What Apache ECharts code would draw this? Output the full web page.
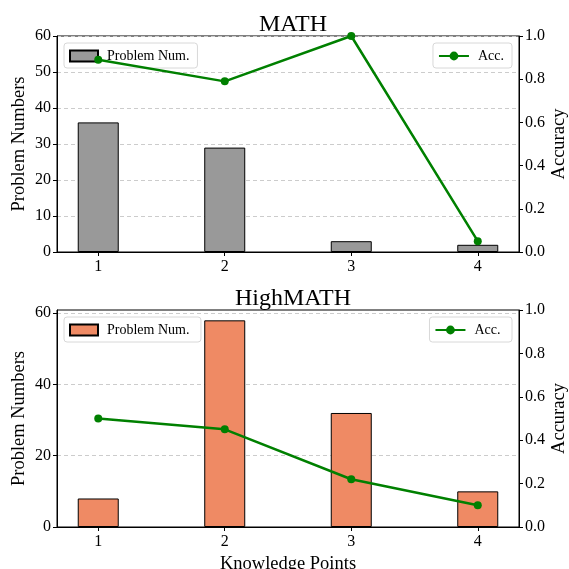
<!DOCTYPE html>
<html>
<head>
<meta charset="utf-8">
<script src="https://cdn.jsdelivr.net/npm/echarts@6/dist/echarts.min.js"></script>
<style>html,body{margin:0;padding:0;background:#fff}#c{width:569px;height:569px}</style>
</head>
<body>
<div id="c"></div>
<script>
var knowledgePoints = [1, 2, 3, 4];
var mathCounts = [36, 29, 3, 2];
var mathAcc = [0.89, 0.79, 1.0, 0.05];
var highCounts = [8, 58, 32, 10];
var highAcc = [0.5, 0.45, 0.22, 0.1];
var leftTicksTop = [0, 10, 20, 30, 40, 50, 60];
var leftTicksBottom = [0, 20, 40, 60];

var FONT = 'Liberation Serif';
function pairs(xs, ys) { return xs.map(function (x, i) { return [x, ys[i]]; }); }

var chart = echarts.init(document.getElementById('c'), null, {renderer: 'canvas'});
var grids = [
  {left: 57, right: 50, top: 36, height: 216, show: true, borderColor: '#000', borderWidth: 1,
    backgroundColor: 'transparent', outerBoundsMode: 'none', containLabel: false},
  {left: 57, right: 50, top: 310, height: 217, show: true, borderColor: '#000', borderWidth: 1,
    backgroundColor: 'transparent', outerBoundsMode: 'none', containLabel: false}
];
function xAxis(gi, withName) {
  return {
    type: 'value', gridIndex: gi, min: 0.674, max: 4.326,
    name: withName ? 'Knowledge Points' : '', nameLocation: 'middle', nameGap: 28, nameMoveOverlap: false,
    nameTextStyle: {fontFamily: FONT, fontSize: 18.5, color: '#000'},
    axisLine: {show: true, lineStyle: {color: '#000', width: 1}},
    axisTick: {show: true, customValues: knowledgePoints, length: 4, lineStyle: {color: '#000'}},
    axisLabel: {customValues: knowledgePoints, fontFamily: FONT, fontSize: 16, color: '#000', margin: 7},
    splitLine: {show: false}
  };
}
function leftY(gi, max, ticks) {
  return {
    type: 'value', gridIndex: gi, position: 'left', min: 0, max: max,
    name: 'Problem Numbers', nameLocation: 'middle', nameGap: 28, nameMoveOverlap: false,
    nameTextStyle: {fontFamily: FONT, fontSize: 18.5, color: '#000'},
    axisLine: {show: true, lineStyle: {color: '#000'}},
    axisTick: {show: true, customValues: ticks, length: 4, lineStyle: {color: '#000'}},
    axisLabel: {customValues: ticks, fontFamily: FONT, fontSize: 16, color: '#000', margin: 6},
    splitLine: {show: true, lineStyle: {color: '#cccccc', type: [4, 3], width: 1}}
  };
}
function rightY(gi) {
  return {
    type: 'value', gridIndex: gi, position: 'right', min: 0, max: 1, interval: 0.2,
    name: 'Accuracy', nameLocation: 'middle', nameGap: 31, nameMoveOverlap: false,
    nameTextStyle: {fontFamily: FONT, fontSize: 18.5, color: '#000'},
    axisLine: {show: true, lineStyle: {color: '#000'}},
    axisTick: {show: true, length: 4, lineStyle: {color: '#000'}},
    axisLabel: {fontFamily: FONT, fontSize: 16, color: '#000', margin: 6,
      formatter: function (v) { return v.toFixed(1); }},
    splitLine: {show: false}
  };
}
function legends(top, barName, lineName) {
  var common = {
    orient: 'horizontal', top: top, backgroundColor: '#fff',
    borderColor: '#d8d8d8', borderWidth: 1, borderRadius: 3, padding: [6, 8, 5, 5],
    textStyle: {fontFamily: FONT, fontSize: 14, color: '#000', padding: [0, 0, 0, 4]}, selectedMode: false
  };
  return [
    Object.assign({}, common, {left: 64, data: [{name: barName, icon: 'rect'}], itemWidth: 28, itemHeight: 11}),
    Object.assign({}, common, {right: 57, data: [lineName], itemWidth: 30, itemHeight: 11})
  ];
}
var option = {
  animation: false,
  backgroundColor: '#fff',
  title: [
    {text: 'MATH', left: 288, textAlign: 'center', top: 8, textStyle: {fontFamily: FONT, fontSize: 24, fontWeight: 'normal', color: '#000'}},
    {text: 'HighMATH', left: 288, textAlign: 'center', top: 282, textStyle: {fontFamily: FONT, fontSize: 24, fontWeight: 'normal', color: '#000'}}
  ],
  grid: grids,
  xAxis: [xAxis(0, false), xAxis(1, true)],
  yAxis: [leftY(0, 60, leftTicksTop), rightY(0), leftY(1, 60.9, leftTicksBottom), rightY(1)],
  legend: legends(43, 'Problem Num.', 'Acc.').concat(legends(317, 'Problem Num. ', 'Acc. ')),
  series: [
    {name: 'Problem Num.', type: 'bar', xAxisIndex: 0, yAxisIndex: 0, barWidth: 41,
      data: pairs(knowledgePoints, mathCounts),
      itemStyle: {color: '#999999', borderColor: '#000', borderWidth: 1}},
    {name: 'Acc.', type: 'line', xAxisIndex: 0, yAxisIndex: 1, data: pairs(knowledgePoints, mathAcc),
      symbol: 'circle', symbolSize: 8, lineStyle: {color: '#008000', width: 2.5},
      itemStyle: {color: '#008000'}, z: 5},
    {name: 'Problem Num. ', type: 'bar', xAxisIndex: 1, yAxisIndex: 2, barWidth: 41,
      data: pairs(knowledgePoints, highCounts),
      itemStyle: {color: '#EF8A64', borderColor: '#000', borderWidth: 1}},
    {name: 'Acc. ', type: 'line', xAxisIndex: 1, yAxisIndex: 3, data: pairs(knowledgePoints, highAcc),
      symbol: 'circle', symbolSize: 8, lineStyle: {color: '#008000', width: 2.5},
      itemStyle: {color: '#008000'}, z: 5}
  ]
};
chart.setOption(option);
</script>
</body>
</html>
